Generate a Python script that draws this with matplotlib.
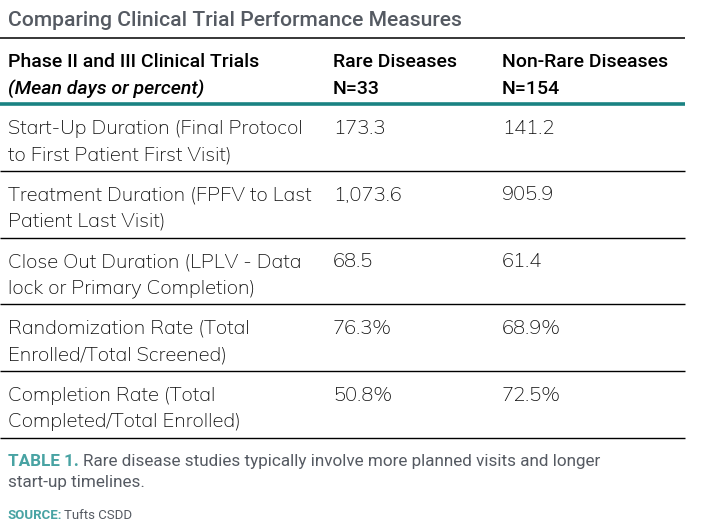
import matplotlib
matplotlib.use("Agg")
import matplotlib.pyplot as plt

# table content
title = "Comparing Clinical Trial Performance Measures"
col_heads = [
    ["Phase II and III Clinical Trials", "(Mean days or percent)"],
    ["Rare Diseases", "N=33"],
    ["Non-Rare Diseases", "N=154"],
]
measures = [
    ["Start-Up Duration (Final Protocol", "to First Patient First Visit)"],
    ["Treatment Duration (FPFV to Last", "Patient Last Visit)"],
    ["Close Out Duration (LPLV - Data", "lock or Primary Completion)"],
    ["Randomization Rate (Total", "Enrolled/Total Screened)"],
    ["Completion Rate (Total", "Completed/Total Enrolled)"],
]
rare = ["173.3", "1,073.6", "68.5", "76.3%", "50.8%"]
non_rare = ["141.2", "905.9", "61.4", "68.9%", "72.5%"]
caption_tag = "TABLE 1."
caption = ["Rare disease studies typically involve more planned visits and longer",
           "start-up timelines."]
source_tag = "SOURCE:"
source = "Tufts CSDD"

teal = "#1a8282"
light_teal = "#48a3a3"
grey = "#555a62"
head = ["Roboto", "DejaVu Sans"]
body = ["Mulish", "DejaVu Sans"]

fig = plt.figure(figsize=(7.02, 5.30), dpi=100)
ax = fig.add_axes([0, 0, 1, 1])
ax.set_xlim(0, 702)
ax.set_ylim(530, 0)
ax.axis("off")

col_x = [8, 333, 502]

ax.text(8, 26.5, title, fontsize=15.2, color=grey, family=head, weight=500, va="baseline")
ax.hlines(37.5, 0, 685, color="black", lw=1.1)

for x, lines in zip(col_x, col_heads):
    ax.text(x, 67, lines[0], fontsize=14, family=head, weight=500, va="baseline")
    style = "italic" if x == col_x[0] else "normal"
    ax.text(x, 94, lines[1], fontsize=14, family=head, weight=500, va="baseline", style=style)
ax.hlines(104, 0, 685, color=teal, lw=2.6)

row_h = 66.8
for i, (m, r, n) in enumerate(zip(measures, rare, non_rare)):
    top = 104 + i * row_h
    kw = dict(fontsize=14.5, family=body, weight=500, color="#111111", va="baseline")
    ax.text(col_x[0], top + 29.5, m[0], **kw)
    ax.text(col_x[0], top + 56, m[1], **kw)
    ax.text(col_x[1], top + 29.5, r, **kw)
    ax.text(col_x[2], top + 29.5, n, **kw)
    ax.hlines(top + row_h, 0, 685, color="black", lw=1.0)

t = ax.text(8, 466, caption_tag, fontsize=12.3, family=head, color=light_teal,
            weight="bold", va="baseline")
fig.canvas.draw()
bb = t.get_window_extent()
ax.text(8 + bb.width + 4, 466, caption[0], fontsize=12.3, family=head,
        color=grey, va="baseline")
ax.text(8, 487.5, caption[1], fontsize=12.3, family=head, color=grey, va="baseline")

s = ax.text(8, 519, source_tag, fontsize=9.5, family=head, color=light_teal,
            weight="bold", va="baseline")
fig.canvas.draw()
bb = s.get_window_extent()
ax.text(8 + bb.width + 2, 519, source, fontsize=9.5, family=head,
        color=grey, va="baseline")

fig.savefig("out.png", dpi=100)
